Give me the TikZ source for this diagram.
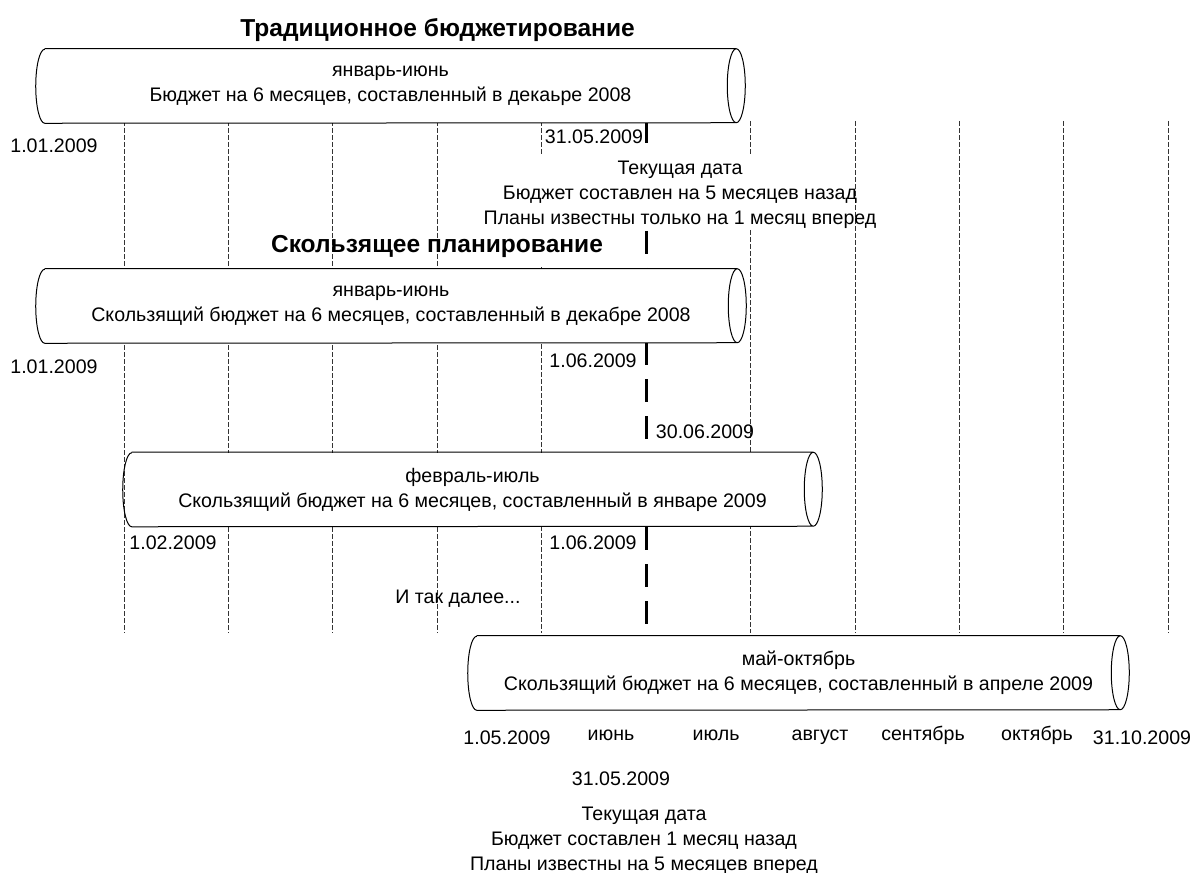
\documentclass[tikz,border=0pt]{standalone}
\usepackage{fontspec}
\setmainfont{Liberation Sans}

\newcommand{\txtfont}{\fontsize{14.7}{18.75}\selectfont}
\newcommand{\headfont}{\fontsize{18.4}{22}\selectfont\bfseries}

\tikzset{
    budget/.style={
        rectangle,
        fill=white,
        align=center,
        inner sep=0pt,
        minimum height=55.5pt,
        font=\txtfont,
    },
    budgetedge/.style={
        black,
        line width=0.75pt,
    },
    datelabel/.style={
        font=\txtfont,
        inner sep=0pt,
        anchor=base,
    },
    headline/.style={
        font=\headfont,
        inner sep=0pt,
        anchor=base,
    },
    note/.style={
        font=\txtfont,
        align=center,
        inner sep=0pt,
    },
    gridline/.style={
        black!80,
        line width=0.6pt,
        dash pattern=on 3.75pt off 1.5pt,
    },
    nowline/.style={
        line width=2.25pt,
        dash pattern=on 17.25pt off 10.5pt,
    },
    capr/.style={x radius=6.75pt, y radius=27.75pt},
}

\begin{document}
\begin{tikzpicture}[x=0.75pt, y=-0.75pt]
    \useasboundingbox (0,0) rectangle (1194,873);

    % Month grid
    \foreach \gx in {124,228.4,332.8,437.2,855,959.2,1063.6,1168}
        \draw[gridline] (\gx,121) -- (\gx,633);
    \draw[gridline] (541.6,121) -- (541.6,155);
    \draw[gridline] (541.6,267) -- (541.6,633);
    \draw[gridline] (750.4,121) -- (750.4,155);
    \draw[gridline] (750.4,230) -- (750.4,633);

    % Current date marker
    \coordinate (nowtop) at (646,120);
    \coordinate (nowgap) at (646,143);
    \coordinate (nowresume) at (646,231);
    \coordinate (nowbot) at (646,634);
    \draw[nowline] (nowtop) -- (nowgap);
    \draw[nowline] (nowresume) -- (nowbot);

    % Traditional budget
    \node[headline] (tradtitle) at (437.5,37) {Традиционное бюджетирование};
    \node[budget, minimum width=518.25pt] (tradbudget) at (390.5,86)
        {январь-июнь\\Бюджет на 6 месяцев, составленный в декаьре 2008};
    \draw[budgetedge] (tradbudget.north west) -- (tradbudget.north east)
        arc[start angle=90, end angle=-90, capr] -- (tradbudget.south west)
        arc[start angle=270, end angle=90, capr]
        (tradbudget.north east) arc[start angle=90, end angle=270, capr];
    \node[datelabel] (tradstart) at (54,153) {1.01.2009};
    \node[datelabel] (tradnow) at (594,144) {31.05.2009};
    \node[note] (tradnote) at (680,195)
        {Текущая дата\\Бюджет составлен на 5 месяцев назад\\Планы известны только на 1 месяц вперед};

    % Rolling budget
    \node[headline] (rolltitle) at (437,253) {Скользящее планирование};
    \node[budget, minimum width=519pt] (rolljan) at (391,306)
        {январь-июнь\\Скользящий бюджет на 6 месяцев, составленный в декабре 2008};
    \draw[budgetedge] (rolljan.north west) -- (rolljan.north east)
        arc[start angle=90, end angle=-90, capr] -- (rolljan.south west)
        arc[start angle=270, end angle=90, capr]
        (rolljan.north east) arc[start angle=90, end angle=270, capr];
    \node[datelabel] (janstart) at (54,373) {1.01.2009};
    \node[datelabel] (jannow) at (593,367) {1.06.2009};
    \node[datelabel] (janend) at (705,438) {30.06.2009};

    \node[budget, minimum width=510.75pt] (rollfeb) at (472.5,489.5)
        {февраль-июль\\Скользящий бюджет на 6 месяцев, составленный в январе 2009};
    \draw[budgetedge] (rollfeb.north west) -- (rollfeb.north east)
        arc[start angle=90, end angle=-90, capr] -- (rollfeb.south west)
        arc[start angle=270, end angle=90, capr]
        (rollfeb.north east) arc[start angle=90, end angle=270, capr];
    \node[datelabel] (febstart) at (173,549) {1.02.2009};
    \node[datelabel] (febnow) at (593,549) {1.06.2009};
    \node[datelabel] (etc) at (458,603) {И так далее...};

    \node[budget, minimum width=482.25pt] (rollmay) at (798.5,673)
        {май-октябрь\\Скользящий бюджет на 6 месяцев, составленный в апреле 2009};
    \draw[budgetedge] (rollmay.north west) -- (rollmay.north east)
        arc[start angle=90, end angle=-90, capr] -- (rollmay.south west)
        arc[start angle=270, end angle=90, capr]
        (rollmay.north east) arc[start angle=90, end angle=270, capr];
    \node[datelabel] (maystart) at (507,744) {1.05.2009};
    \node[datelabel] (mjun) at (611,740) {июнь};
    \node[datelabel] (mjul) at (716,740) {июль};
    \node[datelabel] (maug) at (820,740) {август};
    \node[datelabel] (msep) at (923,740) {сентябрь};
    \node[datelabel] (moct) at (1037,740) {октябрь};
    \node[datelabel] (mayend) at (1142,744) {31.10.2009};
    \node[datelabel] (maynow) at (621,785) {31.05.2009};
    \node[note] (maynote) at (644,841)
        {Текущая дата\\Бюджет составлен 1 месяц назад\\Планы известны на 5 месяцев вперед};
\end{tikzpicture}
\end{document}
